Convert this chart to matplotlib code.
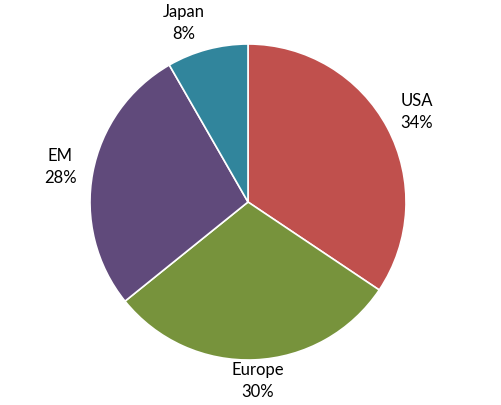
import matplotlib
matplotlib.use("Agg")
import matplotlib.pyplot as plt
import numpy as np

categories = ["USA", "Europe", "EM", "Japan"]
shares = [34.4, 29.8, 27.5, 8.3]
colors = ["#C0504D", "#77933C", "#604A7B", "#31859C"]
label_dist = [1.21, 1.135, 1.21, 1.17]
label_dx = [0, 2, 0, -17]

W, H = 502, 405
fig = plt.figure(figsize=(W / 100, H / 100), dpi=100)
ax = fig.add_axes([0, 0, 1, 1])

cx, cy, R = 248, 405 - 202, 158
wedges, _ = ax.pie(shares, colors=colors, startangle=90, counterclock=False,
                   radius=R, center=(cx, cy), frame=True,
                   wedgeprops=dict(edgecolor="white", linewidth=1.2))
ax.set_xlim(0, W)
ax.set_ylim(0, H)
ax.set_aspect("equal")
ax.axis("off")

for w, cat, val, d, dx in zip(wedges, categories, shares, label_dist, label_dx):
    ang = np.deg2rad((w.theta1 + w.theta2) / 2)
    x = cx + R * d * np.cos(ang) + dx
    y = cy + R * d * np.sin(ang)
    ax.text(x, y, f"{cat}\n{round(val):d}%", ha="center", va="center", fontsize=12,
            family=["Lato", "DejaVu Sans"], color="#000000", linespacing=1.45)

fig.savefig("out.png", dpi=100)
